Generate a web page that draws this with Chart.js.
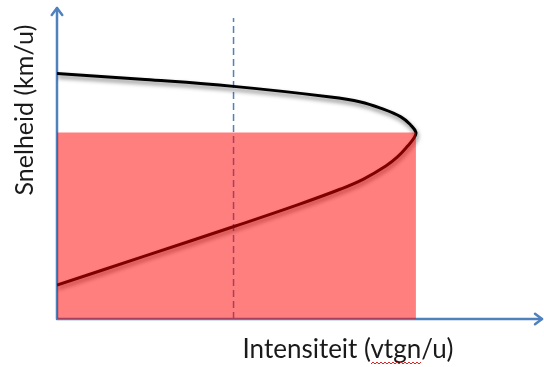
<!DOCTYPE html>
<html>
<head>
<meta charset="utf-8">
<script src="https://cdn.jsdelivr.net/npm/chart.js@4/dist/chart.umd.min.js"></script>
<style>
    html, body { margin: 0; padding: 0; background: #fff; }
    #wrap { width: 544px; height: 367px; }
</style>
</head>
<body>
<div id="wrap"><canvas id="myChart"></canvas></div>
<script>
// speed / intensity curve: upper branch (free flow) then lower branch (congested)
let curveIntensity = [0, 18.2, 36.4, 56.4, 62.6, 66.7, 70.9, 72.9, 74, 73.6, 72.3, 70.2, 67.8, 63.2, 58.5, 49.6, 36.8, 18.2, 0];
let curveSpeed = [78.9, 77.0, 74.8, 71.4, 69.8, 67.8, 65.0, 62.4, 60, 58.2, 55.6, 52.1, 49.2, 45.0, 41.8, 36.7, 29.9, 20.3, 10.9];

// capacity point -> shaded block under it
let capacityIntensity = 74;
let capacitySpeed = 60;

// dashed reference line
let refIntensity = 36.4;
let refSpeedTop = 96.8;

let xTitle = 'Intensiteit (vtgn/u)';
let yTitle = 'Snelheid (km/u)';

const axisBlue = '#4f81bd';
const labelFont = 'Lato, "Open Sans", sans-serif';

let curvePoints = curveIntensity.map(function(x, i){
    return {x: x, y: curveSpeed[i]};
});

function arrowHead(ctx, x, y, dx, dy){
    // open chevron pointing in (dx, dy)
    let s = 7;
    let px = -dy, py = dx;
    ctx.beginPath();
    ctx.moveTo(x - dx * s + px * s * 0.75, y - dy * s + py * s * 0.75);
    ctx.lineTo(x, y);
    ctx.lineTo(x - dx * s - px * s * 0.75, y - dy * s - py * s * 0.75);
    ctx.stroke();
}

const axesPlugin = {
    id: 'arrowAxes',
    beforeDatasetsDraw: function(chart){
        let ctx = chart.ctx;
        let xs = chart.scales.x, ys = chart.scales.y;
        let x0 = xs.getPixelForValue(0);
        let y0 = ys.getPixelForValue(0);
        ctx.save();
        ctx.strokeStyle = axisBlue;
        ctx.lineWidth = 2.5;
        ctx.lineCap = 'round';
        ctx.lineJoin = 'round';
        ctx.beginPath();
        ctx.moveTo(x0, y0);
        ctx.lineTo(x0, ys.top);
        ctx.moveTo(x0, y0);
        ctx.lineTo(xs.right, y0);
        ctx.stroke();
        arrowHead(ctx, x0, ys.top, 0, -1);
        arrowHead(ctx, xs.right, y0, 1, 0);
        ctx.restore();
    },
    afterDraw: function(chart){
        let ctx = chart.ctx;
        ctx.save();
        ctx.fillStyle = '#1a1a1a';
        ctx.font = '26px ' + labelFont;
        ctx.textAlign = 'center';
        ctx.textBaseline = 'alphabetic';
        ctx.fillText(xTitle, 348, 358);

        // spell-check squiggle under "vtgn"
        let pre = ctx.measureText('Intensiteit (').width;
        let word = ctx.measureText('vtgn').width;
        let full = ctx.measureText(xTitle).width;
        let sx = 348 - full / 2 + pre;
        ctx.strokeStyle = '#e02020';
        ctx.lineWidth = 1;
        ctx.beginPath();
        for(let i = 0; i <= word; i += 2){
            let yy = 363 + ((i / 2) % 2 === 0 ? 1 : -1);
            if(i === 0) ctx.moveTo(sx + i, yy); else ctx.lineTo(sx + i, yy);
        }
        ctx.stroke();

        ctx.font = '25px ' + labelFont;
        ctx.translate(33, 110);
        ctx.rotate(-Math.PI / 2);
        ctx.fillText(yTitle, 0, 0);
        ctx.restore();
    }
};

const shadowPlugin = {
    id: 'curveShadow',
    beforeDatasetDraw: function(chart, args){
        if(chart.data.datasets[args.index].shadow){
            chart.ctx.save();
            chart.ctx.shadowColor = 'rgba(0, 0, 0, 0.5)';
            chart.ctx.shadowBlur = 4;
            chart.ctx.shadowOffsetX = 1;
            chart.ctx.shadowOffsetY = 3;
        }
    },
    afterDatasetDraw: function(chart, args){
        if(chart.data.datasets[args.index].shadow){
            chart.ctx.restore();
        }
    }
};

new Chart(document.getElementById('myChart'), {
    type: 'line',
    data: {
        datasets: [{
            // semi transparent block, drawn on top
            data: [{x: 0, y: capacitySpeed}, {x: capacityIntensity, y: capacitySpeed}],
            backgroundColor: 'rgba(255, 0, 0, 0.5)',
            borderWidth: 0,
            pointRadius: 0,
            fill: 'origin',
            order: 0
        }, {
            data: curvePoints,
            borderColor: '#000',
            borderWidth: 3,
            pointRadius: 0,
            tension: 0.4,
            fill: false,
            shadow: true,
            order: 1
        }, {
            data: [{x: refIntensity, y: 0}, {x: refIntensity, y: refSpeedTop}],
            borderColor: axisBlue,
            borderWidth: 1.5,
            borderDash: [7, 4],
            pointRadius: 0,
            fill: false,
            order: 2
        }]
    },
    options: {
        responsive: true,
        maintainAspectRatio: false,
        animation: false,
        layout: {
            padding: {left: 57, right: 2, top: 8, bottom: 48}
        },
        scales: {
            x: {type: 'linear', min: 0, max: 100, display: false},
            y: {type: 'linear', min: 0, max: 100, display: false}
        },
        elements: {
            line: {clip: false}
        },
        plugins: {
            legend: {display: false},
            tooltip: {enabled: false}
        }
    },
    plugins: [axesPlugin, shadowPlugin]
});
</script>
</body>
</html>
